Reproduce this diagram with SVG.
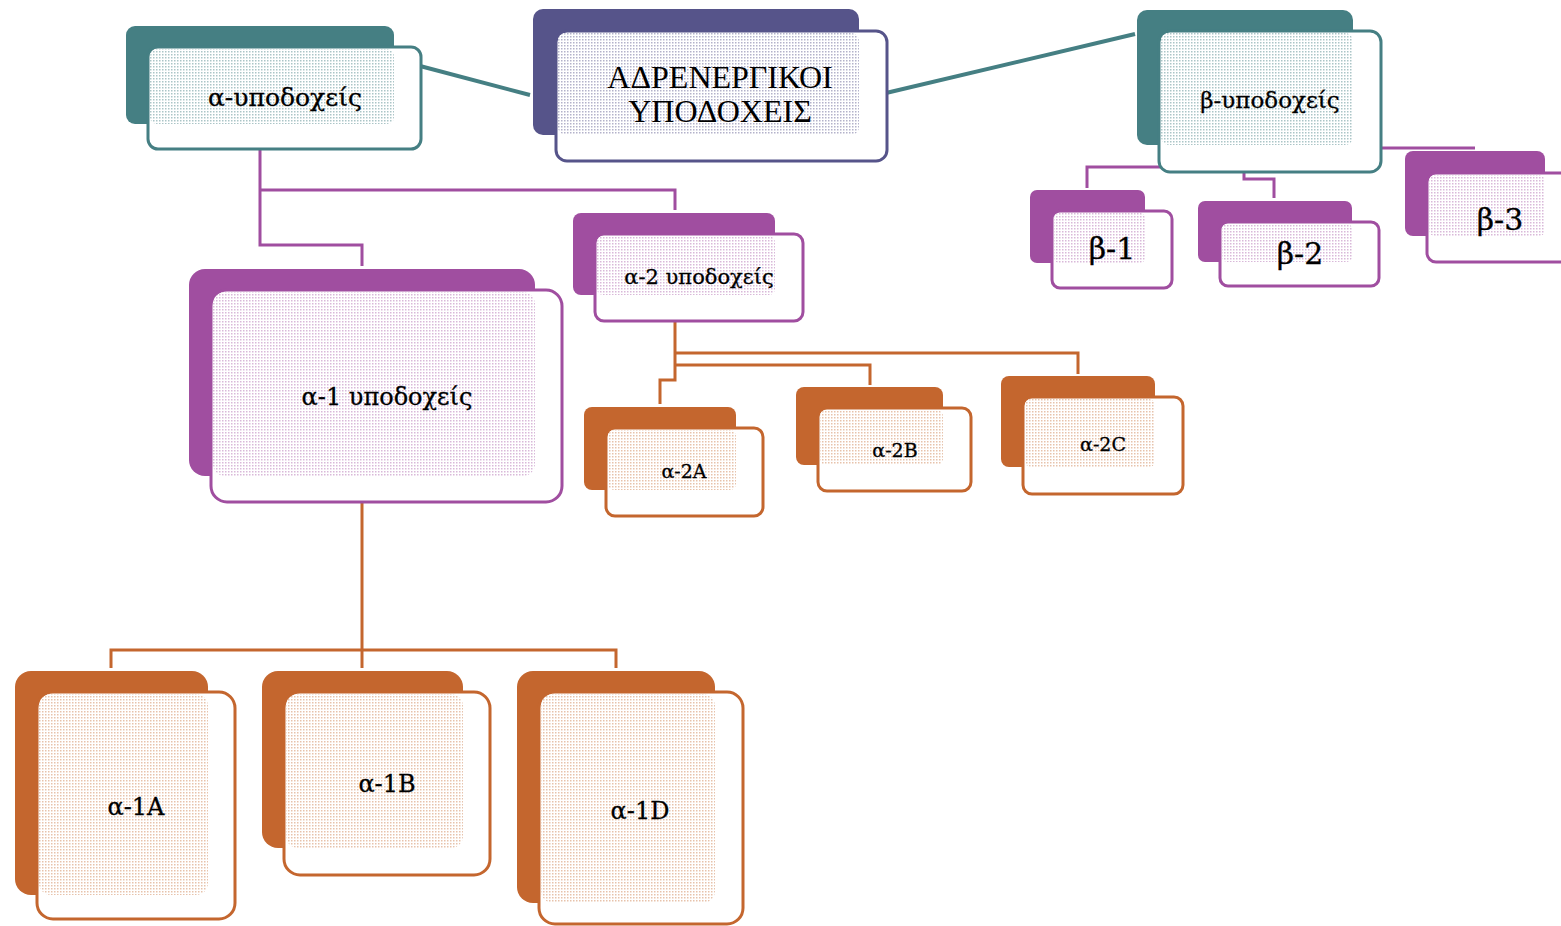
<svg xmlns="http://www.w3.org/2000/svg" width="1561" height="926" viewBox="0 0 1561 926">
<defs>
<pattern id="pTeal" width="3" height="3" patternUnits="userSpaceOnUse"><rect width="3" height="3" fill="#fff"/><rect width="1.5" height="1.5" fill="#457f83" fill-opacity="0.45"/></pattern>
<pattern id="pNavy" width="3" height="3" patternUnits="userSpaceOnUse"><rect width="3" height="3" fill="#fff"/><rect width="1.5" height="1.5" fill="#56548a" fill-opacity="0.45"/></pattern>
<pattern id="pPurple" width="3" height="3" patternUnits="userSpaceOnUse"><rect width="3" height="3" fill="#fff"/><rect width="1.5" height="1.5" fill="#a04ea0" fill-opacity="0.4"/></pattern>
<pattern id="pOrange" width="3" height="3" patternUnits="userSpaceOnUse"><rect width="3" height="3" fill="#fff"/><rect width="1.5" height="1.5" fill="#c4662e" fill-opacity="0.4"/></pattern>
</defs>
<style>
.teal{fill:#457f83}.navy{fill:#56548a}.purple{fill:#a04ea0}.orange{fill:#c4662e}
.front{fill:#fff;stroke-width:3}
.ft{stroke:#457f83}.fn{stroke:#56548a}.fp{stroke:#a04ea0}.fo{stroke:#c4662e}
.lbl{font-family:"DejaVu Serif","Liberation Serif",serif;fill:#000;text-anchor:middle;stroke:#000;stroke-width:0.3}
.caps{font-family:"Liberation Serif","DejaVu Serif",serif;fill:#000;text-anchor:middle}
.cT{stroke:#457f83;stroke-width:4;fill:none}
.cP{stroke:#a04ea0;stroke-width:3;fill:none}
.cO{stroke:#c4662e;stroke-width:3;fill:none}
</style>
<rect width="1561" height="926" fill="#fff"/>
<g id="connectors">
<line class="cT" x1="420" y1="66" x2="530" y2="95"/>
<line class="cT" x1="886" y1="93" x2="1135" y2="34"/>
<polyline class="cP" points="260,150 260,245 362,245 362,266"/>
<polyline class="cP" points="260,190 675,190 675,210"/>
<polyline class="cP" points="1160,167 1087,167 1087,188"/>
<polyline class="cP" points="1244,172 1244,179 1274,179 1274,198"/>
<polyline class="cP" points="1381,148 1475,148"/>
<polyline class="cO" points="675,321 675,380 660,380 660,404"/>
<polyline class="cO" points="675,353 1078,353 1078,374"/>
<polyline class="cO" points="675,365 870,365 870,385"/>
<polyline class="cO" points="362,503 362,668"/>
<polyline class="cO" points="111,668 111,650 616,650 616,668"/>
</g>
<g id="n-root">
<rect class="navy" x="533" y="9" width="326" height="126" rx="10"/>
<rect class="front fn" x="556" y="31" width="331" height="130" rx="11"/>
<rect x="558" y="33" width="301" height="102" rx="8" fill="url(#pNavy)"/>
<text class="caps" font-size="32" x="720" y="88">ΑΔΡΕΝΕΡΓΙΚΟΙ</text>
<text class="caps" font-size="32" x="720" y="122">ΥΠΟΔΟΧΕΙΣ</text>
</g>
<g id="n-alpha">
<rect class="teal" x="126" y="26" width="268" height="98" rx="9"/>
<rect class="front ft" x="148" y="47" width="273" height="102" rx="10"/>
<rect x="150" y="49" width="244" height="75" rx="7" fill="url(#pTeal)"/>
<text class="lbl" font-size="25" x="285" y="106">α-υποδοχείς</text>
</g>
<g id="n-beta">
<rect class="teal" x="1137" y="10" width="216" height="135" rx="10"/>
<rect class="front ft" x="1159" y="31" width="222" height="141" rx="11"/>
<rect x="1161" y="33" width="192" height="112" rx="8" fill="url(#pTeal)"/>
<text class="lbl" font-size="23" x="1270" y="108">β-υποδοχείς</text>
</g>
<g id="n-b1">
<rect class="purple" x="1030" y="190" width="115" height="73" rx="7"/>
<rect class="front fp" x="1052" y="211" width="120" height="77" rx="8"/>
<rect x="1054" y="213" width="91" height="50" rx="5" fill="url(#pPurple)"/>
<text class="lbl" font-size="30" x="1112" y="259">β-1</text>
</g>
<g id="n-b2">
<rect class="purple" x="1198" y="201" width="154" height="61" rx="7"/>
<rect class="front fp" x="1220" y="222" width="159" height="64" rx="8"/>
<rect x="1222" y="224" width="130" height="38" rx="5" fill="url(#pPurple)"/>
<text class="lbl" font-size="30" x="1300" y="264">β-2</text>
</g>
<g id="n-b3">
<rect class="purple" x="1405" y="151" width="140" height="85" rx="8"/>
<rect class="front fp" x="1427" y="173" width="150" height="89" rx="9"/>
<rect x="1429" y="175" width="116" height="61" rx="6" fill="url(#pPurple)"/>
<text class="lbl" font-size="30" x="1500" y="230">β-3</text>
</g>
<g id="n-a1">
<rect class="purple" x="189" y="269" width="346" height="207" rx="16"/>
<rect class="front fp" x="211" y="290" width="351" height="212" rx="16"/>
<rect x="213" y="292" width="322" height="184" rx="12" fill="url(#pPurple)"/>
<text class="lbl" font-size="24" x="387" y="405">α-1 υποδοχείς</text>
</g>
<g id="n-a2">
<rect class="purple" x="573" y="213" width="202" height="82" rx="8"/>
<rect class="front fp" x="595" y="234" width="208" height="87" rx="9"/>
<rect x="597" y="236" width="178" height="59" rx="6" fill="url(#pPurple)"/>
<text class="lbl" font-size="21" x="699" y="284">α-2 υποδοχείς</text>
</g>
<g id="n-a2a">
<rect class="orange" x="584" y="407" width="152" height="83" rx="8"/>
<rect class="front fo" x="606" y="428" width="157" height="88" rx="9"/>
<rect x="608" y="430" width="128" height="60" rx="6" fill="url(#pOrange)"/>
<text class="lbl" font-size="19" x="684" y="478">α-2A</text>
</g>
<g id="n-a2b">
<rect class="orange" x="796" y="387" width="147" height="78" rx="8"/>
<rect class="front fo" x="818" y="408" width="153" height="83" rx="9"/>
<rect x="820" y="410" width="123" height="55" rx="6" fill="url(#pOrange)"/>
<text class="lbl" font-size="19" x="895" y="457">α-2B</text>
</g>
<g id="n-a2c">
<rect class="orange" x="1001" y="376" width="154" height="91" rx="8"/>
<rect class="front fo" x="1023" y="397" width="160" height="97" rx="9"/>
<rect x="1025" y="399" width="130" height="68" rx="6" fill="url(#pOrange)"/>
<text class="lbl" font-size="19" x="1103" y="451">α-2C</text>
</g>
<g id="n-a1a">
<rect class="orange" x="15" y="671" width="193" height="224" rx="16"/>
<rect class="front fo" x="37" y="692" width="198" height="227" rx="16"/>
<rect x="39" y="694" width="169" height="201" rx="12" fill="url(#pOrange)"/>
<text class="lbl" font-size="24" x="136" y="815">α-1A</text>
</g>
<g id="n-a1b">
<rect class="orange" x="262" y="671" width="201" height="177" rx="16"/>
<rect class="front fo" x="284" y="692" width="206" height="183" rx="16"/>
<rect x="286" y="694" width="177" height="154" rx="12" fill="url(#pOrange)"/>
<text class="lbl" font-size="24" x="387" y="792">α-1B</text>
</g>
<g id="n-a1d">
<rect class="orange" x="517" y="671" width="198" height="232" rx="16"/>
<rect class="front fo" x="539" y="692" width="204" height="232" rx="16"/>
<rect x="541" y="694" width="174" height="209" rx="12" fill="url(#pOrange)"/>
<text class="lbl" font-size="24" x="640" y="819">α-1D</text>
</g>
</svg>
